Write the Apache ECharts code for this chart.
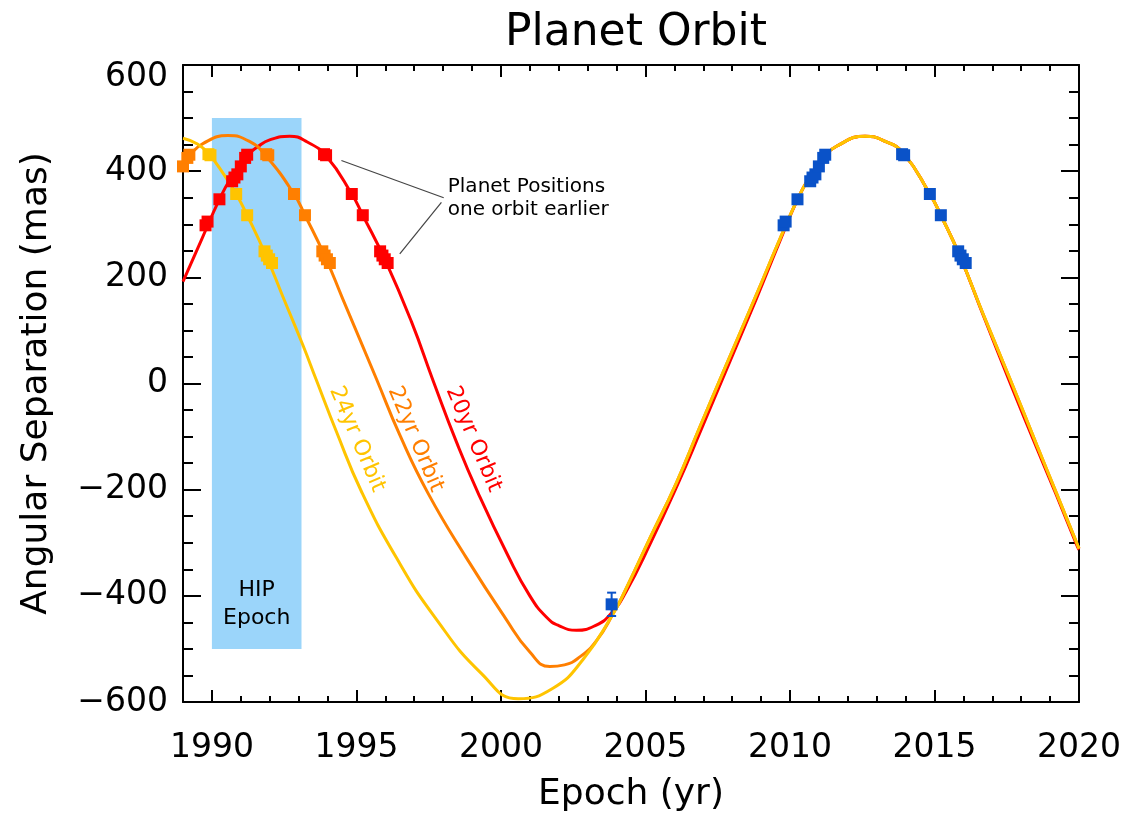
<!DOCTYPE html>
<html><head><meta charset="utf-8">
<script src="https://cdn.jsdelivr.net/npm/echarts@6/dist/echarts.min.js"></script>
<style>html,body{margin:0;padding:0;background:#fff}#c{width:1129px;height:818px}</style>
</head><body><div id="c"></div>
<script>
// ---------- data ----------
const xMajorTicks = [1990, 1995, 2000, 2005, 2010, 2015, 2020];
const xMinorTicks = [1989, 1990, 1991, 1992, 1993, 1994, 1995, 1996, 1997, 1998, 1999, 2000, 2001, 2002, 2003, 2004,
  2005, 2006, 2007, 2008, 2009, 2010, 2011, 2012, 2013, 2014, 2015, 2016, 2017, 2018, 2019, 2020];
const yTicks = [-600, -400, -200, 0, 200, 400, 600];

// orbit curves [epoch, separation]
const orbit20Curve = [[1989.0,192],[1989.65,272],[1990.26,347],[1990.69,390],[1991.2,428],[1991.61,447],[1992.0,459],[1992.69,466],
  [1993.3,455],[1993.96,428],[1994.84,357],[1995.22,317],[1996.0,232],[1996.9,117],[1997.67,3],[1998.46,-110],[1999.2,-205],
  [2000.25,-325],[2001.0,-400],[2001.57,-440],[2002.0,-456],[2002.61,-465],[2003.3,-455],[2003.8,-434],[2004.3,-395],
  [2005.2,-298],[2006.1,-192],[2006.92,-88],[2007.77,22],[2008.84,160],[2009.65,268],[2010.26,347],[2010.69,390],[2011.2,428],
  [2011.61,447],[2012.6,466],[2013.3,456],[2013.92,434],[2014.84,357],[2015.22,317],[2015.88,240],[2016.69,128],[2017.61,2],
  [2018.54,-122],[2019.23,-212],[2019.92,-304],[2020.0,-313]];
const orbit22Curve = [[1989.0,415],[1989.23,430],[1989.69,452],[1990.55,467],[1991.3,456],[1991.88,428],[1992.84,357],[1993.22,317],
  [1993.9,241],[1994.53,159],[1995.69,9],[1996.5,-97],[1997.48,-207],[1998.8,-328],[2000.13,-440],[2001.0,-506],
  [2001.69,-533],[2002.2,-530],[2002.73,-515],[2003.3,-485],[2003.9,-432],[2004.3,-390],[2005.15,-292],[2006.07,-187],
  [2006.88,-82],[2007.74,28],[2008.82,165],[2009.65,272],[2010.26,347],[2010.69,390],[2011.2,428],[2011.61,447],[2012.6,466],
  [2013.3,456],[2013.92,434],[2014.84,357],[2015.22,317],[2015.88,240],[2016.69,130],[2017.61,9],[2018.54,-116],[2019.23,-208],
  [2019.92,-300],[2020.0,-311]];
const orbit24Curve = [[1989.0,462],[1989.5,451],[1989.9,432],[1990.4,395],[1990.84,357],[1991.22,317],[1991.88,240],[1992.46,163],
  [1993.15,72],[1993.61,7],[1994.31,-91],[1995.17,-203],[1996.38,-328],[1997.71,-440],[1999.32,-546],
  [2000.6,-594],[2001.8,-574],[2002.84,-520],[2003.9,-432],[2004.3,-390],[2005.15,-292],[2006.07,-187],
  [2006.88,-82],[2007.74,28],[2008.82,165],[2009.65,272],[2010.26,347],[2010.69,390],[2011.2,428],[2011.61,447],[2012.6,466],
  [2013.3,456],[2013.92,434],[2014.84,357],[2015.22,317],[2015.88,240],[2016.69,130],[2017.61,9],[2018.54,-116],[2019.23,-208],
  [2019.92,-300],[2020.0,-311]];

// measured positions (blue) and the same positions one orbit earlier
const blueEpochs = [2003.83,2009.78,2009.85,2010.26,2010.7,2010.78,2010.88,2011.0,2011.15,2011.22,2013.88,2013.95,2014.84,2015.22,2015.82,2015.9,2015.98,2016.08];
const blueSep    = [-416,298,305,347,381,388,394,409,425,431,432,430,357,317,249,241,234,227];
const blueErrEpoch = [2003.83];
const blueErrSep   = [-416];
const blueErr      = [22];
const red20Epochs = [1989.78,1989.85,1990.26,1990.7,1990.78,1990.88,1991.0,1991.15,1991.22,1993.88,1993.95,1994.84,1995.22,1995.82,1995.9,1995.98,1996.08];
const red20Sep    = [298,305,347,381,388,394,409,425,431,432,430,357,317,249,241,234,227];
const orange22Epochs = [1989.0,1989.15,1989.22,1991.88,1991.95,1992.84,1993.22,1993.82,1993.9,1993.98,1994.08];
const orange22Sep    = [409,425,431,432,430,357,317,249,241,234,227];
const yellow24Epochs = [1989.88,1989.95,1990.84,1991.22,1991.82,1991.9,1991.98,1992.08];
const yellow24Sep    = [432,430,357,317,249,241,234,227];

// HIP epoch band [x0, x1, y0, y1]
const hipBand = [[1990.0, 1993.1, -500, 500]];

// ---------- annotation placement (data coords) ----------
const hipLabelAt = [1991.55, -416];
const noteAt = [1998.16, 349];
const noteLeaders = [[[1994.48, 420], [1998.02, 350]], [[1997.94, 341], [1996.5, 244]]];
const orbitLabelText = ['20yr Orbit', '22yr Orbit', '24yr Orbit'];
const orbitLabelAt = [[1999.05, -105], [1997.04, -105], [1995.02, -105]];

// ---------- style ----------
const FONT = "'DejaVu Sans',sans-serif";
const C_RED = '#ff0000', C_ORA = '#ff7f00', C_YEL = '#ffc400', C_BLUE = '#0a52c8', C_HIP = '#9bd5fa';
const AX = '#000';

const zip = (a, b) => a.map((v, i) => [v, b[i]]);

const chart = echarts.init(document.getElementById('c'), null, {renderer: 'canvas'});

const xBase = {type: 'value', min: 1989, max: 2020, splitLine: {show: false}};
const yBase = {type: 'value', min: -600, max: 600, interval: 200, splitLine: {show: false}};

const option = {
  backgroundColor: '#fff',
  animation: false,
  title: {
    text: 'Planet Orbit', left: 631, top: 7, textAlign: 'center',
    textStyle: {fontFamily: FONT, fontSize: 44, fontWeight: 'normal', color: '#000'}
  },
  grid: {left: 183, right: 50, top: 65, bottom: 111, containLabel: false},
  xAxis: [
    Object.assign({}, xBase, {
      position: 'bottom',
      axisLine: {show: true, onZero: false, lineStyle: {color: AX, width: 2}},
      axisTick: {show: true, inside: true, length: 12, customValues: xMajorTicks, lineStyle: {color: AX, width: 2}},
      axisLabel: {show: true, customValues: xMajorTicks, margin: 30, fontFamily: FONT, fontSize: 33, color: '#000',
        formatter: v => String(v)},
      name: 'Epoch (yr)', nameLocation: 'middle', nameGap: 75,
      nameTextStyle: {fontFamily: FONT, fontSize: 36, color: '#000'}
    }),
    Object.assign({}, xBase, {
      position: 'bottom',
      axisLine: {show: false, onZero: false},
      axisTick: {show: true, inside: true, length: 6, customValues: xMinorTicks, lineStyle: {color: AX, width: 2}},
      axisLabel: {show: false}
    }),
    Object.assign({}, xBase, {
      position: 'top',
      axisLine: {show: true, onZero: false, lineStyle: {color: AX, width: 2}},
      axisTick: {show: true, inside: true, length: 12, customValues: xMajorTicks, lineStyle: {color: AX, width: 2}},
      axisLabel: {show: false}
    }),
    Object.assign({}, xBase, {
      position: 'top',
      axisLine: {show: false, onZero: false},
      axisTick: {show: true, inside: true, length: 6, customValues: xMinorTicks, lineStyle: {color: AX, width: 2}},
      axisLabel: {show: false}
    })
  ],
  yAxis: [
    Object.assign({}, yBase, {
      position: 'left',
      axisLine: {show: true, onZero: false, lineStyle: {color: AX, width: 2}},
      axisTick: {show: true, inside: true, length: 18, lineStyle: {color: AX, width: 2}},
      minorTick: {show: true, splitNumber: 4, length: 10, lineStyle: {color: AX, width: 2}},
      axisLabel: {
        show: true, margin: 15, fontFamily: FONT, fontSize: 33, color: '#000',
        formatter: v => {
          const s = v < 0 ? '\u2212' + Math.abs(v) : String(v);
          return v === 600 ? '{top|' + s + '}' : s;
        },
        rich: {top: {fontFamily: FONT, fontSize: 33, color: '#000', padding: [24, 0, 0, 0]}}
      },
      name: 'Angular Separation (mas)', nameLocation: 'middle', nameGap: 128,
      nameTextStyle: {fontFamily: FONT, fontSize: 36, color: '#000'}
    }),
    Object.assign({}, yBase, {
      position: 'right',
      axisLine: {show: true, onZero: false, lineStyle: {color: AX, width: 2}},
      axisTick: {show: true, inside: true, length: 18, lineStyle: {color: AX, width: 2}},
      minorTick: {show: true, splitNumber: 4, length: 10, lineStyle: {color: AX, width: 2}},
      axisLabel: {show: false}
    })
  ],
  series: [
    {
      type: 'custom', name: 'HIP', z: 1, silent: true, clip: true,
      data: hipBand,
      renderItem: (params, api) => {
        const p0 = api.coord([api.value(0), api.value(3)]);
        const p1 = api.coord([api.value(1), api.value(2)]);
        const lp = api.coord(hipLabelAt);
        return {type: 'group', children: [
          {type: 'rect', shape: {x: p0[0], y: p0[1], width: p1[0] - p0[0], height: p1[1] - p0[1]}, style: {fill: C_HIP}},
          {type: 'text', x: lp[0], y: lp[1], style: {text: 'HIP\nEpoch', fill: '#000', font: '22px ' + FONT,
            align: 'center', verticalAlign: 'middle', lineHeight: 28}}
        ]};
      }
    },
    {type: 'line', name: '20yr', data: orbit20Curve, showSymbol: false, smooth: 0.5, z: 2,
      lineStyle: {color: C_RED, width: 3}, itemStyle: {color: C_RED}},
    {type: 'line', name: '22yr', data: orbit22Curve, showSymbol: false, smooth: 0.5, z: 3,
      lineStyle: {color: C_ORA, width: 3}, itemStyle: {color: C_ORA}},
    {type: 'line', name: '24yr', data: orbit24Curve, showSymbol: false, smooth: 0.5, z: 4,
      lineStyle: {color: C_YEL, width: 3}, itemStyle: {color: C_YEL}},
    {type: 'scatter', data: zip(red20Epochs, red20Sep), symbol: 'rect', symbolSize: 12, z: 5, itemStyle: {color: C_RED, opacity: 1}},
    {type: 'scatter', data: zip(orange22Epochs, orange22Sep), symbol: 'rect', symbolSize: 12, z: 5, itemStyle: {color: C_ORA, opacity: 1}},
    {type: 'scatter', data: zip(yellow24Epochs, yellow24Sep), symbol: 'rect', symbolSize: 12, z: 5, itemStyle: {color: C_YEL, opacity: 1}},
    {
      type: 'custom', z: 6, silent: true,
      data: blueErrEpoch.map((e, i) => [e, blueErrSep[i], blueErr[i]]),
      renderItem: (params, api) => {
        const x = api.value(0), y = api.value(1), e = api.value(2);
        const t = api.coord([x, y + e]), b = api.coord([x, y - e]);
        const st = {stroke: C_BLUE, lineWidth: 2};
        return {type: 'group', children: [
          {type: 'line', shape: {x1: t[0], y1: t[1], x2: b[0], y2: b[1]}, style: st},
          {type: 'line', shape: {x1: t[0] - 4.5, y1: t[1], x2: t[0] + 4.5, y2: t[1]}, style: st},
          {type: 'line', shape: {x1: b[0] - 4.5, y1: b[1], x2: b[0] + 4.5, y2: b[1]}, style: st}
        ]};
      }
    },
    {type: 'scatter', data: zip(blueEpochs, blueSep), symbol: 'rect', symbolSize: 12, z: 7, itemStyle: {color: C_BLUE, opacity: 1}}
  ]
};

chart.setOption(option);

const P = d => chart.convertToPixel({xAxisIndex: 0, yAxisIndex: 0}, d);
const graphics = [];
noteLeaders.forEach(seg => {
  const a = P(seg[0]), b = P(seg[1]);
  graphics.push({type: 'line', z: 10, shape: {x1: a[0], y1: a[1], x2: b[0], y2: b[1]}, style: {stroke: '#444', lineWidth: 1.2}});
});
const np = P(noteAt);
graphics.push({type: 'text', z: 10, x: np[0], y: np[1], style: {text: 'Planet Positions\none orbit earlier', fill: '#000',
  font: '20px ' + FONT, align: 'left', verticalAlign: 'middle', lineHeight: 23}});
const orbitColors = [C_RED, C_ORA, C_YEL];
orbitLabelText.forEach((t, i) => {
  const p = P(orbitLabelAt[i]);
  graphics.push({type: 'text', z: 10, x: p[0], y: p[1], rotation: -67 * Math.PI / 180,
    style: {text: t, fill: orbitColors[i], font: '22px ' + FONT, align: 'center', verticalAlign: 'middle'}});
});
chart.setOption({graphic: graphics});
</script>
</body></html>
